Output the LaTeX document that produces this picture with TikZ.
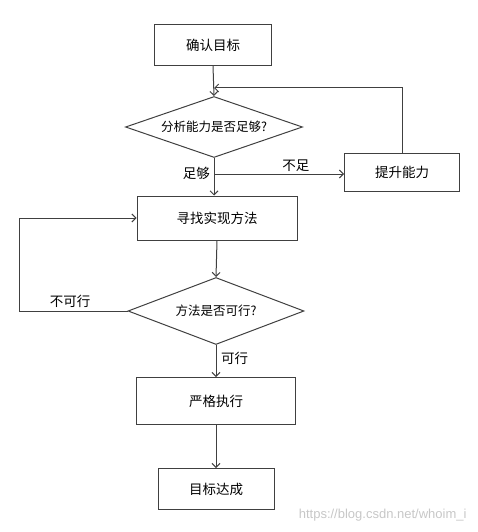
\documentclass[tikz,border=0pt]{standalone}
\usepackage{fontspec}
\newfontfamily\cjk{Noto Sans CJK SC}
\usetikzlibrary{shapes.geometric,arrows.meta}

\begin{document}
\begin{tikzpicture}[
        x=1pt,
        y=-1pt,
        block/.style={
            rectangle,
            draw=black!75,
            line width=1pt,
            align=center,
            inner sep=0pt,
            font=\cjk\fontsize{13.5}{16}\selectfont
        },
        decision/.style={
            diamond,
            draw=black!75,
            line width=1pt,
            aspect=2.9,
            inner sep=0pt,
            font=\cjk\fontsize{12.5}{15}\selectfont
        },
        arrow/.style={
            -{Straight Barb[length=4pt,width=8pt]},
            draw=black!75,
            line width=1pt
        },
        tag/.style={
            font=\cjk\fontsize{13.5}{16}\selectfont,
            inner sep=2pt
        }
    ]

        \useasboundingbox (0,0) rectangle (478,532);

        \node[block, minimum width=117pt, minimum height=41pt] (goal) at (213,45) {确认目标};
        \node[decision, minimum width=177pt, minimum height=61pt] (ability) at (214,127) {分析能力是否足够?};
        \node[block, minimum width=115pt, minimum height=38pt] (improve) at (402,172) {提升能力};
        \node[block, minimum width=160pt, minimum height=44pt] (find) at (217,218) {寻找实现方法};
        \node[decision, minimum width=176pt, minimum height=67pt] (feasible) at (216,311) {方法是否可行?};
        \node[block, minimum width=159pt, minimum height=47pt] (execute) at (216,401) {严格执行};
        \node[block, minimum width=116pt, minimum height=41pt] (done) at (216,489) {目标达成};

        \coordinate (back) at (214,88);
        \coordinate (split) at (214,174);
        \coordinate (loop) at (19,311);

        \draw[arrow] (goal.south) -- (ability.north);
        \draw[arrow] (ability.south) -- (find.north -| ability.south);
        \draw[arrow] (split) -- (split -| improve.west)
            node[tag, pos=0.63, above] {不足};
        \node[tag, left] (enough) at (212,173) {足够};
        \draw[arrow] (improve.north) |- (back);
        \draw[arrow] (find.south) -- (feasible.north);
        \draw[arrow] (feasible.west) -- (loop) |- (find.west);
        \node[tag] (notok) at (70,301) {不可行};
        \draw[arrow] (feasible.south) -- (execute.north);
        \node[tag, right] (ok) at (219,358) {可行};
        \draw[arrow] (execute.south) -- (done.north);

        \node[font=\fontspec{Liberation Sans}\fontsize{13}{15}\selectfont, text=black!22, anchor=east] (mark) at (470,515) {https://blog.csdn.net/whoim\_i};

    \end{tikzpicture}
\end{document}
